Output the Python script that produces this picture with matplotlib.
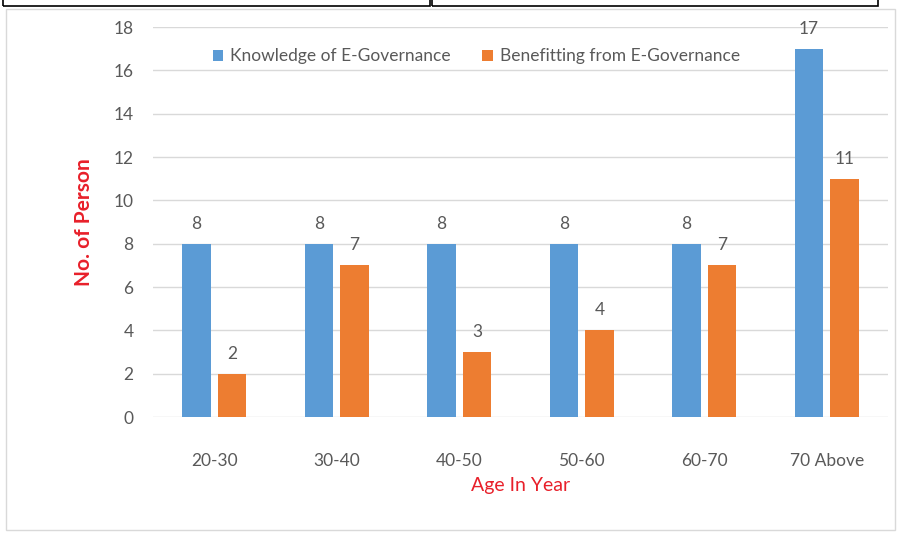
import matplotlib
matplotlib.use("Agg")
import matplotlib.pyplot as plt
import numpy as np
from matplotlib.patches import Rectangle

categories = ["20-30", "30-40", "40-50", "50-60", "60-70", "70 Above"]
knowledge = [8, 8, 8, 8, 8, 17]
benefitting = [2, 7, 3, 4, 7, 11]
series_names = ["Knowledge of E-Governance", "Benefitting from E-Governance"]

BLUE = "#5b9bd5"
ORANGE = "#ed7d31"
GRAY = "#595959"
RED = "#e8202a"

plt.rcParams["font.family"] = ["Lato", "DejaVu Sans"]

W, H = 904, 535
fig = plt.figure(figsize=(W / 100, H / 100), dpi=100)

# cropped strip of the figure above + outer chart frame
fig.patches.append(Rectangle((3 / W, 1 - 6 / H), 427 / W, 10 / H, transform=fig.transFigure,
                             fill=False, edgecolor="black", linewidth=1.2))
fig.patches.append(Rectangle((432 / W, 1 - 6 / H), 446 / W, 10 / H, transform=fig.transFigure,
                             fill=False, edgecolor="black", linewidth=1.2))
fig.patches.append(Rectangle((6 / W, 5 / H), 889 / W, 1 - 14 / H, transform=fig.transFigure,
                             fill=False, edgecolor="#d9d9d9", linewidth=1.0))

ax = fig.add_axes([153 / W, 1 - 417 / H, 735 / W, 390 / H])
x = np.arange(len(categories))
bw = 0.23
off = 0.145
b1 = ax.bar(x - off, knowledge, bw, color=BLUE, label=series_names[0], zorder=3)
b2 = ax.bar(x + off, benefitting, bw, color=ORANGE, label=series_names[1], zorder=3)

for bars in (b1, b2):
    for r in bars:
        ax.text(r.get_x() + r.get_width() / 2, r.get_height() + 0.55, f"{int(r.get_height())}",
                ha="center", va="bottom", fontsize=12.5, color=GRAY)

ax.set_xlim(-0.5, len(categories) - 0.5)
ax.set_ylim(0, 18)
ax.set_yticks(range(0, 19, 2))
ax.set_xticks(x)
ax.set_xticklabels(categories)
ax.tick_params(axis="both", length=0, labelsize=12.5, labelcolor=GRAY)
ax.tick_params(axis="x", pad=26)
ax.tick_params(axis="y", pad=14)
ax.grid(axis="y", color="#d9d9d9", linewidth=1.0, zorder=0)
for s in ax.spines.values():
    s.set_visible(False)

ax.set_ylabel("No. of Person", color=RED, fontsize=15, fontweight="bold", labelpad=14)
ax.set_xlabel("Age In Year", color=RED, fontsize=14, labelpad=6)

leg = ax.legend(loc="upper center", bbox_to_anchor=(0.44, 0.985), ncol=2, frameon=False,
                fontsize=12.5, handlelength=0.6, handleheight=0.6, handletextpad=0.4,
                columnspacing=1.8)
for t in leg.get_texts():
    t.set_color(GRAY)

fig.savefig("out.png", dpi=100)
